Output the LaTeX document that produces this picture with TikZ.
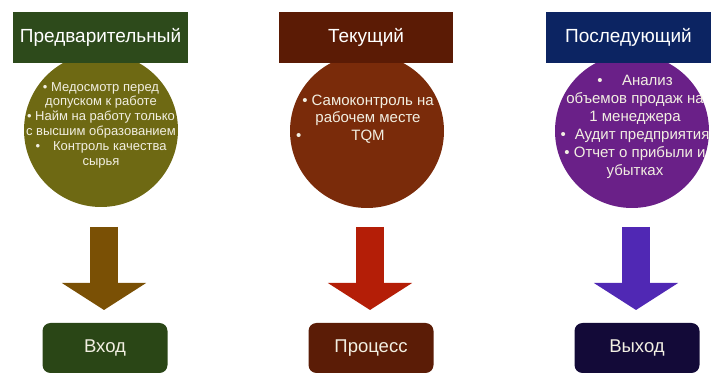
\documentclass[tikz,border=0pt]{standalone}
\usepackage{fontspec}
\setmainfont{Liberation Sans}
\usetikzlibrary{arrows.meta,positioning}
\definecolor{hgreen}{HTML}{2D4A1B}
\definecolor{hbrown}{HTML}{5B1B05}
\definecolor{hnavy}{HTML}{0C2462}
\definecolor{olivedisc}{HTML}{6E6913}
\definecolor{rustdisc}{HTML}{7A2B0A}
\definecolor{plumdisc}{HTML}{6A2088}
\definecolor{arrbrown}{HTML}{7A5005}
\definecolor{arrred}{HTML}{B41E07}
\definecolor{arrviolet}{HTML}{5028B4}
\definecolor{bgreen}{HTML}{2A4616}
\definecolor{bbrown}{HTML}{5B1C06}
\definecolor{bnight}{HTML}{130A38}
\definecolor{cream}{HTML}{F2EFE2}
\tikzset{
	head/.style={rectangle, minimum height=51pt, inner sep=0, text=white, font=\fontsize{19}{22}\selectfont},
	disc/.style={circle, minimum size=154pt, inner sep=0},
	disctext/.style={text=cream, align=center, inner sep=0},
	fatarrow/.style={line width=28pt, -{Triangle[width=83pt,length=27pt]}},
	stage/.style={rectangle, rounded corners=8pt, minimum width=125pt, minimum height=50pt, text=cream, font=\fontsize{18.5}{22}\selectfont}
}
\begin{document}
\begin{tikzpicture}[x=1pt,y=-1pt]
		\useasboundingbox (0,0) rectangle (713,374);
		\node [disc, fill=olivedisc] (c1) at (101,130) {};
		\node [disc, fill=rustdisc] (c2) at (367,131) {};
		\node [disc, fill=plumdisc] (c3) at (632,131) {};
		\node [head, fill=hgreen, minimum width=175pt] (h1) at (100.5,37.5) {Предварительный};
		\node [head, fill=hbrown, minimum width=174pt] (h2) at (366,37.5) {Текущий};
		\node [head, fill=hnavy, minimum width=165pt] (h3) at (628.5,37.5) {Последующий};
		
		\node [disctext, font=\fontsize{13}{14.8}\selectfont] (d1) at (101,125) {\textbullet{} Медосмотр перед\\допуском к работе\\\textbullet{} Найм на работу только\\с высшим образованием\\\textbullet\quad Контроль качества\\сырья};
		\node [disctext, font=\fontsize{15}{17.5}\selectfont] (d2) at (368,119) {\textbullet{} Самоконтроль на\\рабочем месте\\\llap{\textbullet\hspace{50pt}}TQM};
		\node [disctext, font=\fontsize{15}{18}\selectfont] (d3) at (635,127) {\textbullet\hspace{1.3em}Анализ\\объемов продаж на\\1 менеджера\\\textbullet\hspace{0.6em}Аудит предприятия\\\textbullet{} Отчет о прибыли и\\убытках};
		
		\node [stage, fill=bgreen] (b1) at (105,348) {Вход};
		\node [stage, fill=bbrown] (b2) at (371,348) {Процесс};
		\node [stage, fill=bnight] (b3) at (637,348) {Выход};
		
		\coordinate (s1) at (104,227);
		\coordinate (e1) at (104,310);
		\coordinate (s2) at (370,227);
		\coordinate (e2) at (370,310);
		\coordinate (s3) at (636,227);
		\coordinate (e3) at (636,310);
		
		\draw [fatarrow, arrbrown] (s1) to (e1);
		\draw [fatarrow, arrred] (s2) to (e2);
		\draw [fatarrow, arrviolet] (s3) to (e3);
	\end{tikzpicture}
\end{document}
